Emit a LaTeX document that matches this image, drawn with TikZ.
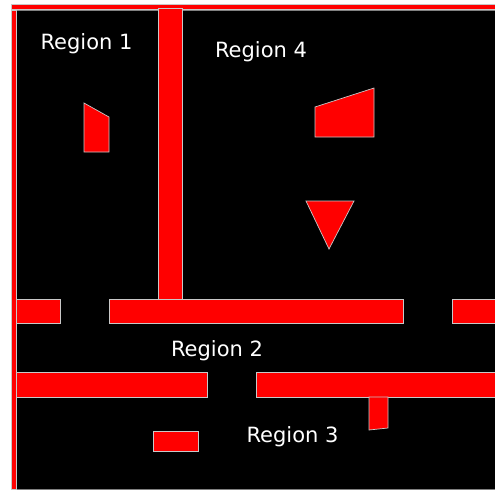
\documentclass[tikz,border=0pt]{standalone}
\usepackage{fontspec}
\setmainfont{DejaVu Sans}
\usetikzlibrary{positioning}
\definecolor{wallred}{RGB}{255, 0, 0}
\definecolor{edgegrey}{RGB}{200, 200, 200}

\tikzset{
    wall/.style={fill=wallred, draw=edgegrey, line width=0.7pt},
    regionlabel/.style={text=white, inner sep=0pt, anchor=base, font=\fontsize{21}{25}\selectfont}
}

\begin{document}
\begin{tikzpicture}[x=1pt, y=-1pt]

    \useasboundingbox (0,0) rectangle (495,490);

    % Map area
    \fill[white] (0,0) rectangle (495,490);
    \draw[fill=black, draw=gray] (16,10) rectangle (497,489);

    % Outer walls
    \draw[wall] (11.5,4.5) rectangle (497,9.5);
    \draw[wall] (11.5,10) rectangle (16.5,489);

    % Vertical wall between Region 1 and Region 4
    \draw[wall] (158,8) rectangle (182,299);

    % Upper row of walls
    \draw[wall] (16,299) rectangle (60,323);
    \draw[wall] (109,299) rectangle (403,323);
    \draw[wall] (452,299) rectangle (497,323);

    % Lower row of walls
    \draw[wall] (16,372) rectangle (207,397);
    \draw[wall] (256,372) rectangle (497,397);
    \draw[wall] (369,397) -- (388,397) -- (388,428) -- (369,430) -- cycle;

    % Obstacles
    \draw[wall] (84,103) -- (109,117) -- (109,152) -- (84,152) -- cycle;
    \draw[wall] (315,107) -- (374,88) -- (374,137) -- (315,137) -- cycle;
    \draw[wall] (306,201) -- (354,201) -- (329,249) -- cycle;
    \draw[wall] (153,431) rectangle (198,451);

    % Labels
    \node[regionlabel] (R1) at (86.5,49) {Region 1};
    \node[regionlabel] (R4) at (261,57) {Region 4};
    \node[regionlabel] (R2) at (217,356) {Region 2};
    \node[regionlabel] (R3) at (292.5,442) {Region 3};

\end{tikzpicture}
\end{document}
